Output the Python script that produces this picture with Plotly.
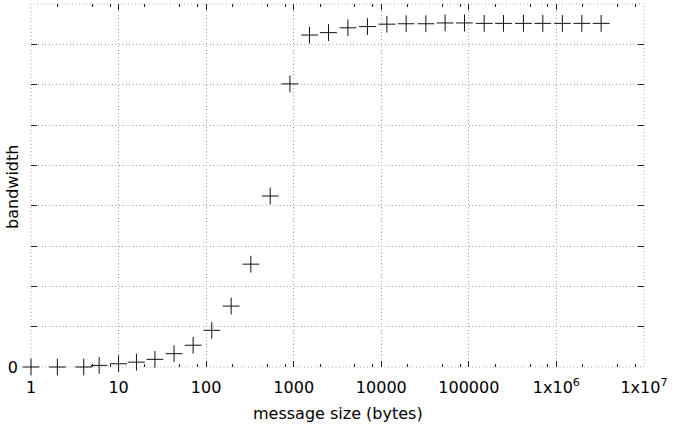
import plotly.graph_objects as go

msg_size = [1, 2, 4, 6, 10, 16, 26, 43, 71, 116, 193, 324, 539, 905,
            1514, 2495, 4155, 6950, 11580, 19240, 32280, 53580, 89100,
            149600, 248500, 420000, 699000, 1170000, 1950000, 3240000]
bandwidth = [0.0, 0.0, 0.0, 0.04, 0.08, 0.12, 0.19, 0.33, 0.54, 0.91,
             1.51, 2.55, 4.24, 7.02, 8.23, 8.29, 8.41, 8.44, 8.50, 8.51,
             8.51, 8.53, 8.53, 8.52, 8.52, 8.52, 8.52, 8.52, 8.52, 8.52]

x_tick_vals = [1, 10, 100, 1000, 10000, 100000, 1000000, 10000000]
x_tick_text = ["1", "10", "100", "1000", "10000", "100000",
               "1x10<sup>6</sup>", "1x10<sup>7</sup>"]
x_minor_vals = [m * d for d in [1, 10, 100, 1000, 10000, 100000, 1000000]
                for m in (2, 5, 8)]
y_tick_vals = list(range(0, 10))
y_tick_text = ["0"] + [""] * 9

GRID = "#a8a8a8"
DOTS = "1px,2.5px"

fig = go.Figure()
fig.add_trace(go.Scatter(
    x=msg_size, y=bandwidth, mode="markers",
    marker=dict(symbol="cross-thin", size=12,
                line=dict(width=1, color="#111"), color="#111"),
    showlegend=False, cliponaxis=False, hoverinfo="skip",
))

fig.update_layout(
    width=674, height=426,
    margin=dict(l=31, r=30, t=4, b=59),
    paper_bgcolor="white", plot_bgcolor="white",
    font=dict(family="DejaVu Sans", size=16, color="black"),
    shapes=[dict(type="rect", xref="paper", yref="paper",
                 x0=0, x1=1, y0=0, y1=1, layer="below",
                 line=dict(color=GRID, width=1, dash=DOTS))],
    annotations=[
        dict(text="message size (bytes)", xref="paper", yref="paper",
             x=0.5, y=-0.127, xanchor="center", yanchor="middle",
             showarrow=False, font=dict(size=16)),
        dict(text="bandwidth", xref="paper", yref="paper",
             x=-0.030, y=0.495, xanchor="center", yanchor="middle",
             textangle=-90, showarrow=False, font=dict(size=16)),
    ],
)
fig.update_xaxes(
    type="log", range=[0, 7], automargin=False,
    tickmode="array", tickvals=x_tick_vals, ticktext=x_tick_text,
    ticks="inside", ticklen=6, tickwidth=1, tickcolor="#222",
    mirror="ticks", showline=False, zeroline=False,
    showgrid=True, gridcolor=GRID, griddash=DOTS, gridwidth=1,
    minor=dict(tickmode="array", tickvals=x_minor_vals, ticks="inside",
               ticklen=3, tickwidth=1, tickcolor="#222", showgrid=False),
    ticklabelstandoff=9,
)
fig.update_yaxes(
    range=[0, 9], automargin=False,
    tickmode="array", tickvals=y_tick_vals, ticktext=y_tick_text,
    ticks="inside", ticklen=6, tickwidth=1, tickcolor="#222",
    mirror="ticks", showline=False, zeroline=False,
    showgrid=True, gridcolor=GRID, griddash=DOTS, gridwidth=1,
    ticklabelstandoff=12,
)

fig.write_html("out.html",
               config={"displayModeBar": False},
               post_script="document.body.style.margin='0px';")
